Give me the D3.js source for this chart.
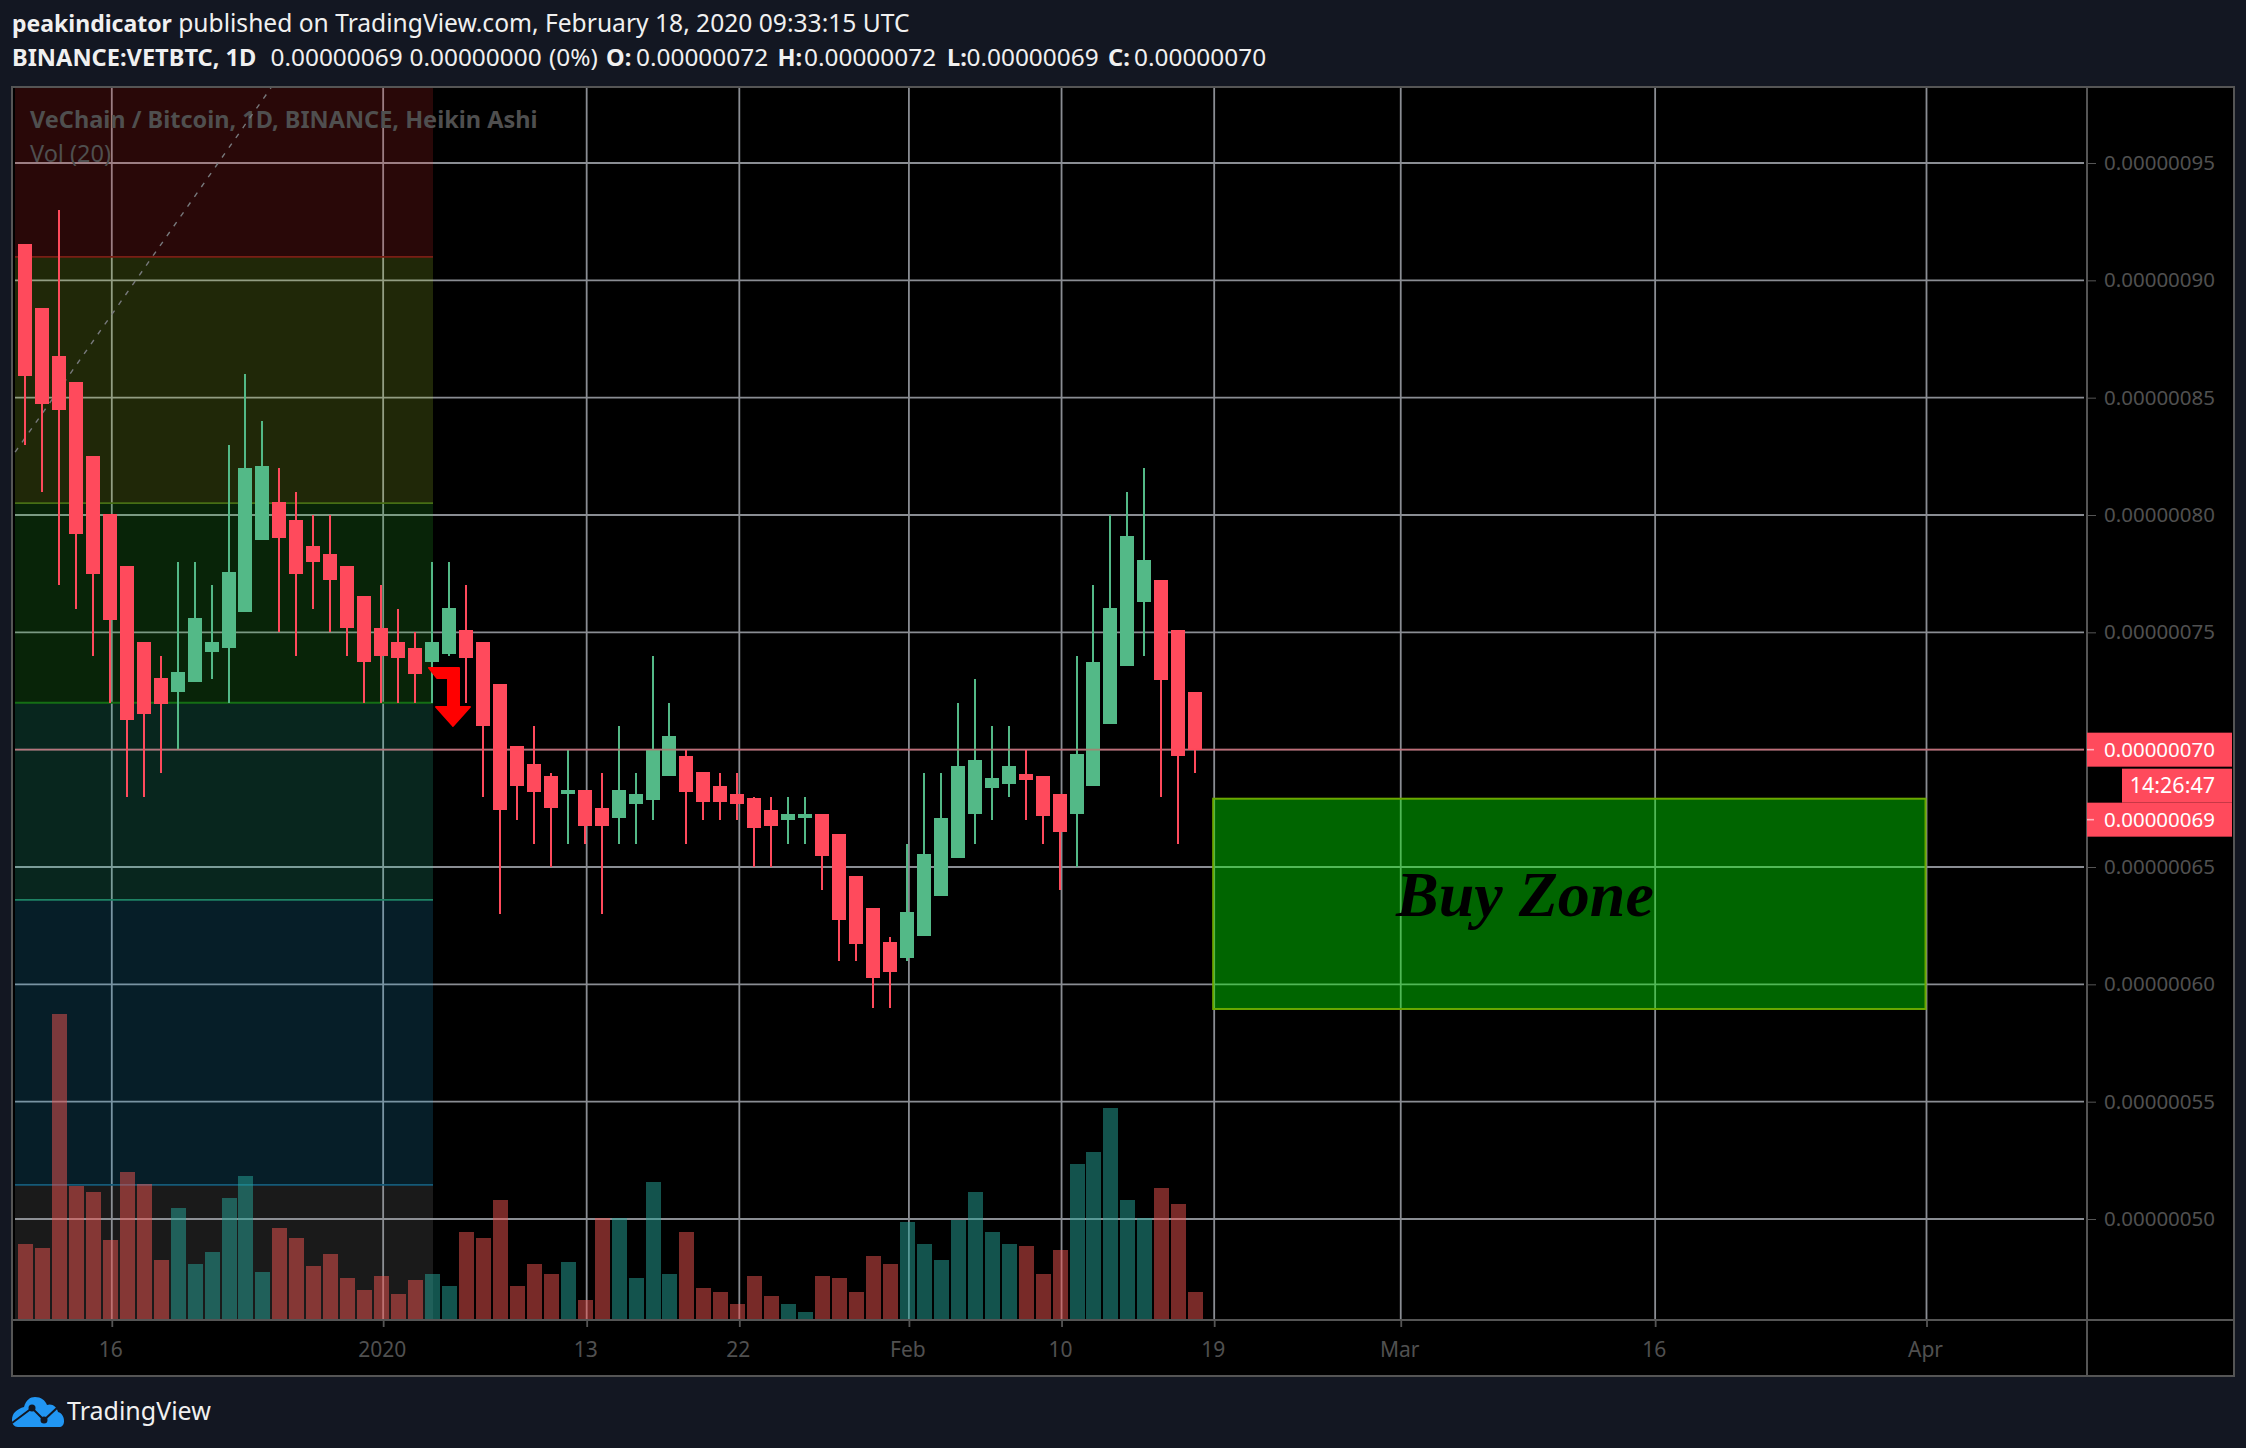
<!DOCTYPE html>
<html><head><meta charset="utf-8">
<style>html,body{margin:0;padding:0;background:#131722}svg{display:block}text{font-family:"Noto Sans",sans-serif}</style>
<script src="https://cdnjs.cloudflare.com/ajax/libs/d3/7.8.5/d3.min.js"></script>
</head><body><div id="c"></div>
<script>
// Prices in units of 1e-8 BTC, Heikin Ashi daily candles from 2019-12-11
const firstDay = "2019-12-11";
const opens = [91.55,88.82,86.78,85.67,82.51,80.04,77.83,74.59,73.05,72.46,72.88,74.16,74.33,75.87,78.93,80.55,79.79,78.68,78.34,77.83,76.55,75.18,74.59,74.33,73.74,74.08,75.1,74.59,72.8,70.16,69.39,68.88,68.11,68.28,67.51,67.09,67.69,67.86,68.88,69.73,69.05,68.45,68.11,67.94,67.43,67,67.09,67.26,66.41,64.62,63.25,61.8,61.12,62.06,63.76,65.38,67.26,68.37,68.54,68.96,68.88,68.11,67.26,68.45,71.09,73.57,76.29,77.23,75.1,72.46];
const closes = [85.92,84.73,84.47,79.19,77.49,75.53,71.26,71.52,71.95,73.31,75.61,74.59,77.57,82,82.09,79.02,77.49,78,77.23,75.18,73.74,74,73.91,73.22,74.59,76.04,73.91,71.01,67.43,68.45,68.2,67.51,68.28,66.75,66.75,68.28,68.11,70,70.58,68.2,67.77,67.77,67.69,66.66,66.75,67.26,67.26,65.47,62.74,61.72,60.27,60.53,63.08,65.55,67.09,69.3,69.56,68.79,69.3,68.71,67.17,66.49,69.82,73.74,76.04,79.11,78.08,72.97,69.73,69.99];
const highs = [91.55,88.82,93,85.67,82.51,80.04,77.83,74.59,74,78,78,77,83,86,84,82,81,80,80,77.83,76.55,77,76,75,78,78,77,74.59,72.8,70.16,71,69,70,68.28,69,71,69,74,72,70,69.05,69,69,68,68,68,68,67.26,66.41,64.62,63.25,62,66,69,69,72,73,71,71,70,68.88,68.11,74,77,80,81,82,77.23,75.1,72.46];
const lows = [83,81,77,76,74,72,68,68,69,70,72.88,73,72,75.87,78.93,75,74,76,75,74,72,72,72,72,72,74,72,68,63,67,66,65,66,66,63,66,66,67,68.88,66,67,67,67,65,65,66,66,64,61,61,59,59,61,62.06,63.76,65.38,66,67,68,67,66,64,65,68.45,71.09,73.57,74,68,66,69];
// Volume, arbitrary units
const volumes = [76,72,306,134,128,80,148,136,60,112,56,68,122,144,48,92,82,54,66,42,30,44,26,40,46,34,88,82,120,34,56,46,58,20,102,102,42,138,46,88,32,28,16,44,24,16,8,44,42,28,64,56,98,76,60,100,128,88,76,74,46,70,156,168,212,120,102,132,116,28];
const priceTicks = [95,90,85,80,75,70,65,60,55,50];
const timeTicks = ["2019-12-16","2020-01-01","2020-01-13","2020-01-22","2020-02-01","2020-02-10","2020-02-19","2020-03-01","2020-03-16","2020-04-01"];
const timeLabels = ["16","2020","13","22","Feb","10","19","Mar","16","Apr"];
// Fibonacci retracement bands
const fibLevels = [98.2,91,80.51,72,63.6,51.45,45.7];
const fibFills = ["rgba(255,51,51,.16)","rgba(200,250,50,.16)","rgba(50,225,50,.16)","rgba(50,237,187,.16)","rgba(37,187,250,.16)","rgba(163,163,163,.16)"];
const fibLines = ["#7a1e14","#466e14","#146e14","#1e8264","#145a78"];
const trendDates = ["2019-12-10T10:00Z","2019-12-25T12:00Z"];
const trendPrices = [82.68,98.2];
const buyDates = ["2020-02-19","2020-04-01"];
const buyPrices = [67.91,58.95];
const lastPrice = 70;
// Header tokens: text, bold flag, left edge
const headerTexts = ["BINANCE:VETBTC, 1D","0.00000069","0.00000000","(0%)","O:","0.00000072","H:","0.00000072","L:","0.00000069","C:","0.00000070"];
const headerBold = [1,0,0,0,1,0,1,0,1,0,1,0];
const headerLeft = [12,270.5,409.5,549,606,636,777.5,804,947,966.5,1108,1134];

const W=2246,H=1448;
const svg=d3.select("#c").append("svg").attr("width",W).attr("height",H);
const day=s=>new Date(s.length===10?s+"T00:00Z":s);
const x=d3.scaleUtc().domain([day(firstDay),day("2020-04-01")]).range([25,1924.5]);
const y=d3.scaleLinear().domain([95,50]).range([163,1219]);
const vy=d3.scaleLinear().domain([0,306]).range([1320,1014]);
const plot={l:13,r:2086,t:88,b:1320,outerR:2233,outerB:1375};
const gridShift=2;
const fmt=d=>d3.format(".8f")(d*1e-8);
const dates=opens.map((_,i)=>d3.utcDay.offset(day(firstDay),i));
const up=i=>closes[i]>=opens[i];

svg.append("rect").attr("width",W).attr("height",H).attr("fill","#131722");
svg.append("rect").attr("x",plot.l).attr("y",plot.t).attr("width",plot.outerR-plot.l).attr("height",plot.outerB-plot.t).attr("fill","#000");

// Grid
const grid=svg.append("g").attr("stroke","#8a8d93").attr("stroke-width",1.8);
grid.selectAll(".h").data(priceTicks).join("line").attr("x1",plot.l+2).attr("x2",plot.r-2).attr("y1",d=>y(d)).attr("y2",d=>y(d));
grid.selectAll(".v").data(timeTicks).join("line").attr("x1",d=>x(day(d))+gridShift).attr("x2",d=>x(day(d))+gridShift).attr("y1",plot.t).attr("y2",plot.b);

// Fib bands
const bandX=[plot.l+2,433];
const bands=svg.append("g");
bands.selectAll("rect").data(fibFills).join("rect")
  .attr("x",bandX[0]).attr("width",bandX[1]-bandX[0])
  .attr("y",(d,i)=>y(fibLevels[i])).attr("height",(d,i)=>y(fibLevels[i+1])-y(fibLevels[i]))
  .attr("fill",d=>d);
bands.selectAll("line").data(fibLines).join("line")
  .attr("x1",bandX[0]).attr("x2",bandX[1])
  .attr("y1",(d,i)=>y(fibLevels[i+1])).attr("y2",(d,i)=>y(fibLevels[i+1]))
  .attr("stroke",d=>d).attr("stroke-width",1.8);

// Watermark
svg.append("text").attr("x",30).attr("y",128).attr("font-size",23.5).attr("font-weight",700).attr("fill","#4f4f4f").text("VeChain / Bitcoin, 1D, BINANCE, Heikin Ashi");
svg.append("text").attr("x",30).attr("y",162).attr("font-size",23.5).attr("fill","#4f4f4f").text("Vol (20)");

// Volume
svg.append("g").selectAll("rect").data(volumes).join("rect")
  .attr("x",(d,i)=>Math.round(x(dates[i]))-7).attr("width",15)
  .attr("y",d=>vy(d)).attr("height",d=>vy(0)-vy(d))
  .attr("fill",(d,i)=>up(i)?"rgba(38,166,154,.5)":"rgba(239,83,80,.5)")
  .attr("shape-rendering","crispEdges");

// Dashed trend line
svg.append("line")
  .attr("x1",x(day(trendDates[0]))).attr("y1",y(trendPrices[0]))
  .attr("x2",x(day(trendDates[1]))).attr("y2",y(trendPrices[1]))
  .attr("stroke","#77797c").attr("stroke-width",1.4).attr("stroke-dasharray","5 7");

// Buy zone
const bz=svg.append("g");
bz.append("rect")
  .attr("x",x(day(buyDates[0]))+1).attr("width",x(day(buyDates[1]))-x(day(buyDates[0])))
  .attr("y",y(buyPrices[0])).attr("height",y(buyPrices[1])-y(buyPrices[0]))
  .attr("fill","rgba(0,245,0,.41)").attr("stroke","#6aa800").attr("stroke-width",2);
svg.append("text").attr("x",1396).attr("y",916).attr("font-size",64).attr("font-weight",700).attr("font-style","italic")
  .style("font-family",'"Liberation Serif",serif').attr("fill","#000").text("Buy Zone");

// Candles
const cg=svg.append("g").attr("shape-rendering","crispEdges");
const colour=i=>up(i)?"#53b987":"#ff4a5c";
cg.selectAll(".w").data(highs).join("rect")
  .attr("x",(d,i)=>Math.round(x(dates[i]))-1).attr("width",2)
  .attr("y",d=>y(d)).attr("height",(d,i)=>y(lows[i])-y(d)).attr("fill",(d,i)=>colour(i));
cg.selectAll(".b").data(opens).join("rect")
  .attr("x",(d,i)=>Math.round(x(dates[i]))-7).attr("width",14)
  .attr("y",(d,i)=>y(Math.max(d,closes[i]))).attr("height",(d,i)=>Math.abs(y(d)-y(closes[i])))
  .attr("fill",(d,i)=>colour(i));

// Red arrow annotation, anchored at a date and price
const ax=x(day("2020-01-05")),ay=y(73.57);
svg.append("path").attr("transform",`translate(${ax},${ay})`)
  .attr("fill","#f00").attr("stroke","#f00").attr("stroke-width",2).attr("stroke-linejoin","round")
  .attr("d","M-20,2 L10,2 L10,41 L21,41 L4,60 L-13,41 L-1,41 L-1,12 L-12,12 Z");

// Last price line
svg.append("line").attr("x1",plot.l+2).attr("x2",plot.r-2).attr("y1",y(lastPrice)).attr("y2",y(lastPrice))
  .attr("stroke","#ff4a5c").attr("stroke-opacity",.45).attr("stroke-width",1.8);

// Axes
const yAxis=d3.axisRight(y).tickValues(priceTicks).tickFormat(fmt).tickSize(9).tickPadding(8);
const ya=svg.append("g").attr("transform",`translate(${plot.r+1},0)`).call(yAxis);
ya.select(".domain").remove();
ya.selectAll("line").attr("stroke","#555");
ya.selectAll("text").attr("fill","#505050").attr("font-size",20.5).style("font-family",'"Noto Sans",sans-serif');
const xAxis=d3.axisBottom(x).tickValues(timeTicks.map(day)).tickFormat((d,i)=>timeLabels[i]).tickSize(7).tickPadding(15);
const xa=svg.append("g").attr("transform",`translate(${gridShift},${plot.b})`).call(xAxis);
xa.select(".domain").remove();
xa.selectAll("line").attr("stroke","#555").attr("stroke-width",1.8);
xa.selectAll("text").attr("fill","#505050").attr("font-size",21).attr("dx",-1.5).style("font-family",'"Noto Sans",sans-serif');

// Frames
const frame=svg.append("g").attr("fill","none").attr("stroke","#555").attr("stroke-width",2);
frame.append("rect").attr("x",plot.l-1).attr("y",plot.t-1).attr("width",plot.outerR-plot.l+2).attr("height",plot.outerB-plot.t+2);
frame.append("line").attr("x1",plot.r+1).attr("x2",plot.r+1).attr("y1",plot.t).attr("y2",plot.outerB);
frame.append("line").attr("x1",plot.l).attr("x2",plot.outerR).attr("y1",plot.b).attr("y2",plot.b);

// Price labels
const labels=[{t:fmt(70),v:70,dy:0,l:2087},{t:"14:26:47",v:70,dy:36,l:2122},{t:fmt(69),v:70,dy:70,l:2087}];
const lg=svg.append("g");
lg.selectAll("rect").data(labels).join("rect").attr("x",d=>d.l).attr("width",d=>2232-d.l)
  .attr("y",d=>y(d.v)+d.dy-17).attr("height",34).attr("fill","#ff4a5c");
lg.selectAll("text").data(labels).join("text").attr("x",2215).attr("text-anchor","end")
  .attr("y",d=>y(d.v)+d.dy+7).attr("font-size",(d,i)=>i===1?21.5:20.5).attr("fill","#fff").text(d=>d.t);
lg.selectAll("line").data([labels[0],labels[2]]).join("line").attr("x1",2087).attr("x2",2094)
  .attr("y1",d=>y(d.v)+d.dy).attr("y2",d=>y(d.v)+d.dy).attr("stroke","#ffb4bc").attr("stroke-width",1.6);

// Header
const h1=svg.append("text").attr("x",12).attr("y",32).attr("fill","#f0f0f0");
h1.append("tspan").attr("font-size",23).attr("font-weight",700).text("peakindicator");
h1.append("tspan").attr("font-size",24.6).text(" published on TradingView.com, February 18, 2020 09:33:15 UTC");
svg.append("g").selectAll("text").data(headerTexts).join("text")
  .attr("x",(d,i)=>headerLeft[i]).attr("y",66).attr("fill","#f0f0f0")
  .attr("font-size",(d,i)=>headerBold[i]?23.6:24.4).attr("font-weight",(d,i)=>headerBold[i]?700:400).text(d=>d);

// TradingView logo
const logo=svg.append("g");
logo.append("path").attr("fill","#2196f3").attr("d","M12,1420 C12,1413 17,1409 24,1407 C26,1400 30,1397 35,1397 C41,1397 45,1400 47,1405 C52,1403 57,1407 58,1412 C62,1413 64,1417 64,1421 C64,1425 62,1427 59,1427 L18,1427 C14,1427 12,1424 12,1420 Z");
logo.append("path").attr("d","M12,1423 L32,1408 L44,1420 L58,1407").attr("fill","none").attr("stroke","#131722").attr("stroke-width",2);
logo.append("circle").attr("cx",32).attr("cy",1408).attr("r",3.5).attr("fill","#131722");
logo.append("circle").attr("cx",44).attr("cy",1420).attr("r",3.5).attr("fill","#131722");
svg.append("text").attr("x",67).attr("y",1420).attr("font-size",25).attr("fill","#f0f0f0").text("TradingView");
</script></body></html>
